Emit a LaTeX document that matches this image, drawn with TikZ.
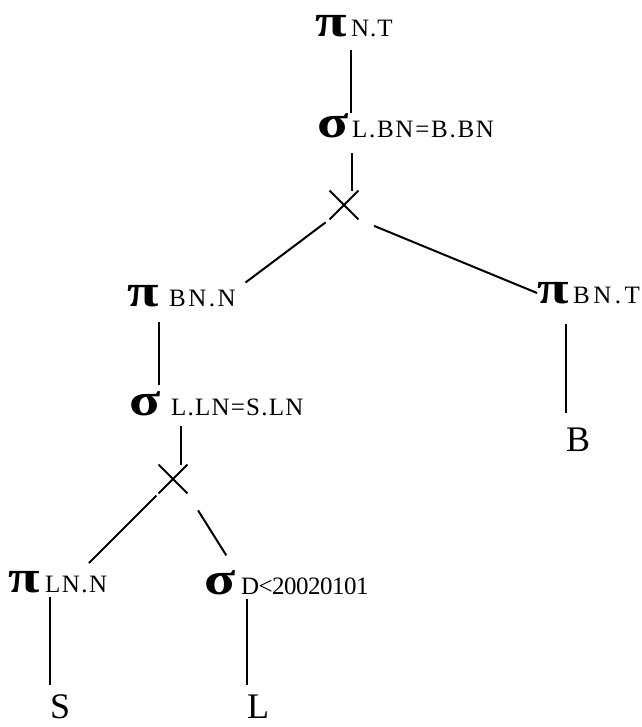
\documentclass[tikz,border=0pt]{standalone}
\usepackage{graphicx}
\usepackage{fontspec}
\setmainfont{Liberation Serif}
\usetikzlibrary{
  shapes.misc
}
\newcommand{\opsym}[1]{\scalebox{1.25}[1]{#1}}
\tikzset{
  op/.style={inner sep=0pt, font=\fontsize{46}{46}\selectfont\bfseries},
  opsub/.style={inner sep=0pt, anchor=base west,
    font=\fontsize{25}{25}\selectfont\addfontfeature{LetterSpace=#1}},
  opsub/.default=0,
  rel/.style={inner sep=0pt, anchor=west, font=\fontsize{36}{36}\selectfont},
  crossjoin/.style={cross out, draw, minimum size=27pt, inner sep=0pt, line width=1.8pt},
  link/.style={line width=2pt}
}

\begin{document}
\begin{tikzpicture}[x=1pt, y=-1pt]
\useasboundingbox (0,0) rectangle (641,727);
% operators
\node[op] (piNT) at (331,26) {\opsym{π}};
\node[opsub=4] (piNTsub) at ([xshift=4pt]piNT.base east) {N.T};
\node[op] (sigLB) at (333,126) {\opsym{σ}};
\node[opsub=7] (sigLBsub) at ([xshift=3pt]sigLB.base east) {L.BN=B.BN};
\node[crossjoin] (join1) at (344,205) {};
\node[op] (piBNN) at (143,296) {\opsym{π}};
\node[opsub=10] (piBNNsub) at ([xshift=10pt]piBNN.base east) {BN.N};
\node[op] (piBNT) at (553,293) {\opsym{π}};
\node[opsub=14] (piBNTsub) at ([xshift=4pt]piBNT.base east) {BN.T};
\node[op] (sigLL) at (145,404) {\opsym{σ}};
\node[opsub=5] (sigLLsub) at ([xshift=10pt]sigLL.base east) {L.LN=S.LN};
\node[crossjoin] (join2) at (173,479) {};
\node[op] (piLNN) at (24,582) {\opsym{π}};
\node[opsub=6] (piLNNsub) at ([xshift=5pt]piLNN.base east) {LN.N};
\node[op] (sigD) at (220,583) {\opsym{σ}};
\node[opsub=-2] (sigDsub) at ([xshift=5pt]sigD.base east) {D<20020101};
% relations
\node[rel] (B) at (566,440) {B};
\node[rel] (S) at (50,707) {S};
\node[rel] (L) at (247,707) {L};

\draw[link, shorten <=13pt, shorten >=8pt] (piNTsub.south west) -- (piNTsub.south west |- sigLBsub.north);
\draw[link, shorten <=15pt] (sigLBsub.south west) -- (sigLBsub.south west |- join1.north);
\draw[link, shorten <=5pt, shorten >=12pt] (join1.south west) -- (piBNNsub.north east);
\draw[link, shorten <=17pt] (join1.south east) -- (piBNT.west);
\draw[link, shorten <=15pt, shorten >=7pt] (piBNN.south east) -- (piBNN.south east |- sigLL.north);
\coordinate (join2top) at ([xshift=8pt]join2.north);
\draw[link, shorten <=10pt] (join2top |- sigLLsub.south) -- (join2top);
\draw[link, shorten <=3pt, shorten >=18pt] (join2.south west) -- (piLNNsub.north);
\draw[link, shorten <=20pt, shorten >=18pt] (join2.south east) -- (sigD.north east);
\draw[link, shorten <=20pt, shorten >=15pt] (B.north west |- piBNTsub.south) -- (B.north west);
\draw[link, shorten <=4pt, shorten >=10pt] (S.north west |- piLNNsub.south) -- (S.north west);
\draw[link, shorten <=4pt, shorten >=10pt] (L.north west |- sigDsub.south) -- (L.north west);
\end{tikzpicture}
\end{document}
